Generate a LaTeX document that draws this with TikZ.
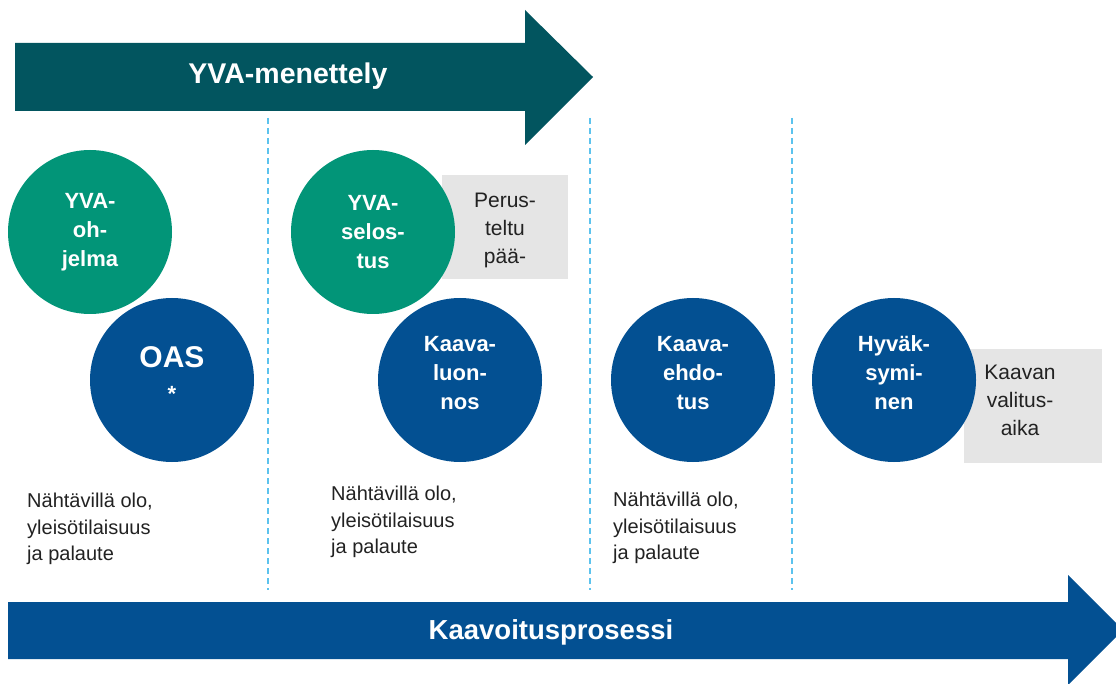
\documentclass[tikz,border=0pt]{standalone}
\usepackage{fontspec}
\setmainfont{Liberation Sans}
\definecolor{yvavari}{HTML}{02555F}
\definecolor{kaavavari}{HTML}{035092}
\definecolor{vihrea}{HTML}{029578}
\definecolor{harmaa}{HTML}{E5E5E5}
\definecolor{rajavari}{HTML}{5CC3EE}
\definecolor{teksti}{HTML}{222222}
\begin{document}
\begin{tikzpicture}[x=1pt,y=-1pt,
    pallo/.style={circle,minimum size=164pt,inner sep=0pt,text=white,align=center,
        font=\bfseries\fontsize{22}{29}\selectfont},
    laatikko/.style={fill=harmaa,inner sep=0pt},
    laatikkoteksti/.style={align=center,inner sep=0pt,text=teksti,font=\fontsize{21}{28}\selectfont},
    selite/.style={anchor=north west,align=left,inner sep=0pt,text=teksti,
        font=\fontsize{20}{26.5}\selectfont},
    raja/.style={draw=rajavari,line width=1.4pt,dash pattern=on 6pt off 4pt}]
                \useasboundingbox (0,0) rectangle (1116,684);
                \clip (0,0) rectangle (1116,684);

                % vaiheiden rajat
                \foreach \x in {268,590,792}
                    {
                        \draw[raja] (\x,118) -- (\x,590);
                    }

                % nuolet
                \fill[yvavari] (15,43) -- (525,43) -- (525,10) -- (593,77) -- (525,145) -- (525,111) -- (15,111) -- cycle;
                \node (yva) at (288,76)[text=white,font=\bfseries\fontsize{28.5}{30}\selectfont]{YVA-menettely};
                \fill[kaavavari] (8,602) -- (1068,602) -- (1068,575) -- (1123,630) -- (1068,685) -- (1068,659) -- (8,659) -- cycle;
                \node (kaava) at (551,632)[text=white,font=\bfseries\fontsize{27.5}{30}\selectfont]{Kaavoitusprosessi};

                % harmaat laatikot
                \node (paatos) at (505,227)[laatikko,minimum width=126pt,minimum height=104pt]{};
                \node (paatosteksti) at (505,230)[laatikkoteksti]{Perus-\\teltu\\pää-};
                \node (valitus) at (1033,406)[laatikko,minimum width=138pt,minimum height=114pt]{};
                \node (valitusteksti) at (1020,400)[laatikkoteksti]{Kaavan\\valitus-\\aika};

                % pallot
                \node (ohjelma) at (90,232)[pallo,fill=vihrea]{YVA-\\oh-\\jelma};
                \node (selostus) at (373,232)[pallo,fill=vihrea]{YVA-\\selos-\\tus};
                \node (oas) at (172,380)[pallo,fill=kaavavari]{};
                \node (oasteksti) at (172,357)[text=white,font=\bfseries\fontsize{30}{33}\selectfont]{OAS};
                \node (tahti) at (172,394)[text=white,font=\bfseries\fontsize{22}{24}\selectfont]{*};
                \node (luonnos) at (460,380)[pallo,fill=kaavavari]{Kaava-\\luon-\\nos\\[-14pt]};
                \node (ehdotus) at (693,380)[pallo,fill=kaavavari]{Kaava-\\ehdo-\\tus\\[-14pt]};
                \node (hyvaksyminen) at (894,380)[pallo,fill=kaavavari]{Hyväk-\\symi-\\nen\\[-14pt]};

                % nähtävillä olo
                \node (nahtavilla1) at (27,493)[selite]{Nähtävillä olo,\\yleisötilaisuus\\ja palaute};
                \node (nahtavilla2) at (331,486)[selite]{Nähtävillä olo,\\yleisötilaisuus\\ja palaute};
                \node (nahtavilla3) at (613,492)[selite]{Nähtävillä olo,\\yleisötilaisuus\\ja palaute};
\end{tikzpicture}
\end{document}
